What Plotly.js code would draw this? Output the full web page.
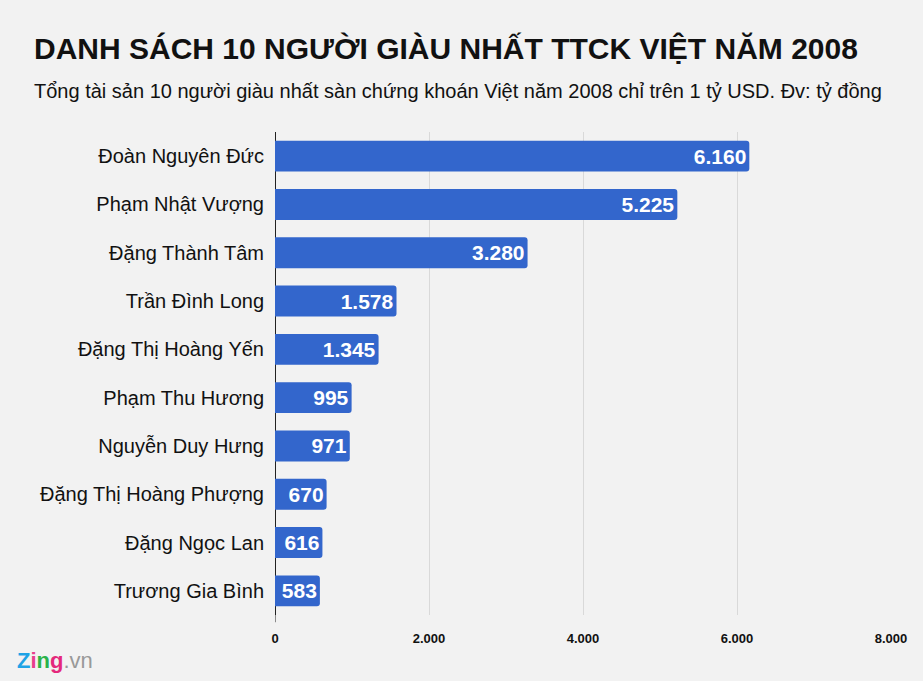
<!DOCTYPE html>
<html><head><meta charset="utf-8">
<script src="https://cdn.plot.ly/plotly-3.0.1.min.js"></script>
<style>body{margin:0;background:#f2f2f2}#c{width:923px;height:681px}</style>
</head><body><div id="c"></div>
<script>
const names = ["Đoàn Nguyên Đức","Phạm Nhật Vượng","Đặng Thành Tâm","Trần Đình Long","Đặng Thị Hoàng Yến","Phạm Thu Hương","Nguyễn Duy Hưng","Đặng Thị Hoàng Phượng","Đặng Ngọc Lan","Trương Gia Bình"];
const values = [6160,5225,3280,1578,1345,995,971,670,616,583];
const valueLabels = ["6.160","5.225","3.280","1.578","1.345","995","971","670","616","583"];
const tickVals = [0,2000,4000,6000,8000];
const tickText = ["0","2.000","4.000","6.000","8.000"];

const trace = {
  type:'bar', orientation:'h',
  y: names.slice().reverse(), x: values.slice().reverse(),
  text: valueLabels.slice().reverse(),
  textposition:'inside', insidetextanchor:'end',
  textfont:{family:'Liberation Sans, Arial, sans-serif', size:21, color:'#ffffff', weight:'bold'},
  marker:{color:'#3366cc'},
  hoverinfo:'none', cliponaxis:false
};
const layout = {
  width:923, height:681,
  paper_bgcolor:'#f2f2f2', plot_bgcolor:'#f2f2f2',
  margin:{l:275, r:32, t:132, b:66},
  bargap:0.36, barcornerradius:3,
  showlegend:false,
  font:{family:'Liberation Sans, Arial, sans-serif', color:'#111'},
  xaxis:{range:[0,8000], tickvals:tickVals, ticktext:tickText, showgrid:true, gridcolor:'#d9d9d9', gridwidth:1,
    zeroline:true, zerolinecolor:'#222', zerolinewidth:1, ticks:'', ticklabelstandoff:14, fixedrange:true,
    tickfont:{family:'Liberation Sans, Arial, sans-serif', size:13, color:'#111', weight:'bold'}},
  yaxis:{tickfont:{size:20, color:'#111'}, ticks:'', ticklen:0, ticklabelstandoff:10, automargin:false, fixedrange:true, showgrid:false},
  annotations:[
    {xref:'paper', yref:'paper', xanchor:'left', yanchor:'middle', x:-260/616, y:-0.095, showarrow:false,
     text:'<b><span style="color:#1fa3e6">Z</span><span style="color:#e83e8c">i</span><span style="color:#2bb34a">n</span><span style="color:#e4287c">g</span></b><span style="color:#999">.vn</span>',
     font:{family:'Liberation Sans, Arial, sans-serif', size:22}},
    {xref:'paper', yref:'paper', x:-243/616, y:1+(132-49)/483, xanchor:'left', yanchor:'middle', showarrow:false,
     text:'<b>DANH SÁCH 10 NGƯỜI GIÀU NHẤT TTCK VIỆT NĂM 2008</b>',
     font:{family:'Liberation Sans, Arial, sans-serif', size:30, color:'#111'}},
    {xref:'paper', yref:'paper', x:-243/616, y:1+(132-91)/483, xanchor:'left', yanchor:'middle', showarrow:false,
     text:'Tổng tài sản 10 người giàu nhất sàn chứng khoán Việt năm 2008 chỉ trên 1 tỷ USD. Đv: tỷ đồng',
     font:{family:'Liberation Sans, Arial, sans-serif', size:20, color:'#111'}}
  ],
  shapes:[
    {type:'line', xref:'x', yref:'paper', x0:0, x1:0, y0:0, y1:-0.015, line:{color:'#222', width:1}}
  ]
};
Plotly.newPlot('c',[trace],layout,{displayModeBar:false, staticPlot:true});
</script></body></html>
